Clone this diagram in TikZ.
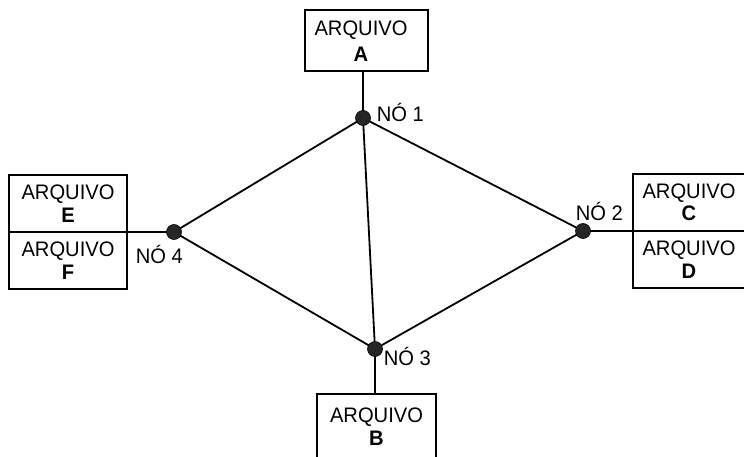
\documentclass[tikz,border=0pt]{standalone}
\usepackage{fontspec}
\setmainfont[FakeStretch=0.96]{Liberation Sans}
\begin{document}
\begin{tikzpicture}[x=1pt,y=-1pt,
  line width=1.8pt,
  filebox/.style={draw, rectangle, inner sep=0pt, align=center,
    font=\fontsize{21}{22.5}\selectfont},
  netnode/.style={circle, fill=black!85, draw=black, line width=0.6pt,
    minimum size=15pt, inner sep=0pt},
  nodelabel/.style={anchor=base west, inner sep=0pt,
    font=\fontsize{21}{22.5}\selectfont}]
  \useasboundingbox (0,0) rectangle (744,457);

  % files
  \node[filebox, minimum width=123pt, minimum height=61pt] (A) at (366.5,40.5) {};
  \node[align=center, inner sep=0pt, font=\fontsize{21}{26}\selectfont]
    (At) at (361,41.5) {ARQUIVO\\\textbf{A}};
  \node[filebox, minimum width=119pt, minimum height=65pt] (B) at (376.5,426.5) {ARQUIVO\\\textbf{B}};
  \node[filebox, minimum width=112pt, minimum height=57pt] (C) at (689,202.5) {ARQUIVO\\\textbf{C}};
  \node[filebox, minimum width=112pt, minimum height=57pt] (D) at (689,259.5) {ARQUIVO\\\textbf{D}};
  \node[filebox, minimum width=118pt, minimum height=57pt] (E) at (68,203.5) {ARQUIVO\\\textbf{E}};
  \node[filebox, minimum width=118pt, minimum height=57pt] (F) at (68,260.5) {ARQUIVO\\\textbf{F}};

  % network nodes
  \coordinate (p1) at (363,118);
  \coordinate (p2) at (583,231);
  \coordinate (p3) at (375,349);
  \coordinate (p4) at (174,232);

  % links
  \draw (p1) -- (p2);
  \draw (p1) -- (p4);
  \draw (p1) -- (p3);
  \draw (p3) -- (p2);
  \draw (p3) -- (p4);
  \draw (p1) -- (p1 |- A.south);
  \draw (p3) -- (p3 |- B.north);
  \draw (p4) -- (p4 -| E.east);
  \draw (p2) -- (p2 -| C.west);

  \node[netnode] (n1) at (p1) {};
  \node[netnode] (n2) at (p2) {};
  \node[netnode] (n3) at (p3) {};
  \node[netnode] (n4) at (p4) {};

  % labels
  \node[nodelabel] (l1) at (376,122) {NÓ 1};
  \node[nodelabel] (l2) at (575,220) {NÓ 2};
  \node[nodelabel] (l3) at (383,365) {NÓ 3};
  \node[nodelabel] (l4) at (135,263) {NÓ 4};
\end{tikzpicture}
\end{document}
